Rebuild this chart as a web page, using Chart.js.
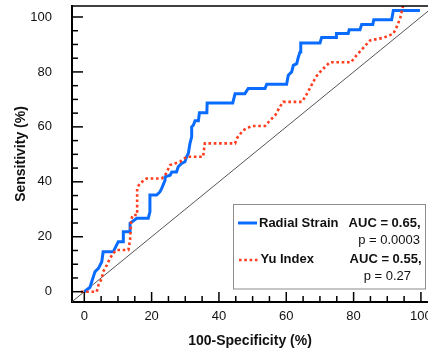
<!DOCTYPE html>
<html>
<head>
<meta charset="utf-8">
<script src="https://cdn.jsdelivr.net/npm/chart.js@4"></script>
<style>
  html, body { margin: 0; padding: 0; background: #fff; }
</style>
</head>
<body>
<canvas id="rocChart" width="428" height="356"></canvas>
<script>
// ROC points (100-Specificity, Sensitivity)
let radialX = [0, 1.7, 2.2, 3.2, 4.2, 5.2, 5.6, 8.6, 10.1, 11.6, 11.6, 13.6, 13.6, 15.6, 19, 19.5, 19.5, 21.5, 22.5, 23, 24, 24, 25.5, 26, 27.4, 27.9, 28.9, 29.9, 30.4, 30.9, 31.4, 31.9, 31.9, 32.4, 32.9, 33.9, 34.2, 36.4, 36.5, 44.1, 44.8, 47.7, 48.7, 53.7, 54.2, 60.1, 60.6, 61.6, 62.1, 63.1, 63.6, 64.1, 64.3, 70, 70.5, 74.8, 74.9, 78.4, 78.7, 81.9, 82.4, 85.7, 86, 91.3, 91.8, 99.7];
let radialY = [0, 1.6, 3.6, 7.3, 8.5, 10.9, 14.5, 14.5, 18.2, 18.2, 21.8, 21.8, 24.9, 26.7, 26.7, 29.1, 35.2, 35.2, 36.4, 37.6, 40.6, 41.8, 42.4, 43.6, 43.6, 45.5, 46.7, 47.3, 49.1, 50.3, 54, 56.4, 60, 60.6, 62.2, 62.2, 65.1, 65.1, 68.7, 68.7, 72.1, 72.1, 74, 74, 75.5, 75.5, 78.8, 80, 82.4, 83, 85.5, 87.3, 90.5, 90.5, 92.5, 92.5, 94, 94, 95.4, 95.4, 97.3, 97.3, 99, 99, 102.4, 102.4];

let yuX = [-1, 3.7, 4.2, 5.2, 5.6, 6.7, 7.6, 8.6, 9.6, 13.1, 13.6, 13.9, 14.4, 15.7, 15.7, 16.5, 18.5, 23, 24, 25.5, 26.9, 28.4, 30.4, 35.3, 35.8, 44.8, 45.3, 47.2, 49.7, 53.7, 55.2, 56.7, 58.1, 59.1, 64.6, 65.6, 67, 68.8, 70.5, 72.9, 79.2, 80.9, 82.9, 84.9, 88.8, 91.8, 92.8, 93.8, 94.7];
let yuY = [0, 0, 2.4, 4.8, 7.3, 9.7, 12.1, 14, 15.2, 15.2, 18.8, 26.1, 27.9, 27.9, 37.6, 39.4, 41.2, 41.2, 42.4, 46.1, 46.7, 47.3, 49.1, 49.1, 54, 54, 55.8, 58.8, 60.3, 60.3, 62.4, 64.2, 67.3, 69.1, 69.1, 70.9, 74, 78.2, 80.6, 83.5, 83.5, 86.1, 88.8, 91.5, 92.4, 93.9, 96.4, 99.4, 104];

let refLine = [-5, 105];

let seriesNames = ["Radial Strain", "Yu Index"];
let aucLabels = ["AUC = 0.65,", "AUC = 0.55,"];
let pLabels = ["p = 0.0003", "p = 0.27"];

let xTicks = [0, 20, 40, 60, 80, 100];
let yTicks = [0, 20, 40, 60, 80, 100];

let blue = "#0a6cff";
let red = "#ff3d1f";
let fontFamily = "'Liberation Sans', Arial, sans-serif";

let toPoints = (xs, ys) => xs.map((x, i) => ({ x: x, y: ys[i] }));

let noPadding = (scale) => {
    scale.paddingTop = 0;
    scale.paddingBottom = 0;
    scale.paddingLeft = 0;
    scale.paddingRight = 0;
};

// inward tick marks, top frame and the boxed legend
let frameAndLegend = {
    id: "frameAndLegend",
    afterDraw(chart) {
        let ctx = chart.ctx;
        let area = chart.chartArea;
        let xs = chart.scales.x;
        let ys = chart.scales.y;
        ctx.save();
        ctx.strokeStyle = "#000";
        ctx.lineWidth = 1.5;
        ctx.beginPath();
        ctx.moveTo(area.left, area.top);
        ctx.lineTo(area.right, area.top);
        ctx.stroke();

        ctx.lineWidth = 1.5;
        for (let v = 0; v <= xs.max; v += 5) {
            let px = xs.getPixelForValue(v);
            let len = v % 20 === 0 ? 10 : 6;
            ctx.beginPath();
            ctx.moveTo(px, area.bottom);
            ctx.lineTo(px, area.bottom - len);
            ctx.stroke();
        }
        for (let v = 0; v <= ys.max; v += 5) {
            let py = ys.getPixelForValue(v);
            let len = v % 20 === 0 ? 11 : 6;
            ctx.beginPath();
            ctx.moveTo(area.left, py);
            ctx.lineTo(area.left + len, py);
            ctx.stroke();
        }

        // legend box
        ctx.fillStyle = "#fff";
        ctx.fillRect(233.5, 204.5, 192, 84.5);
        ctx.strokeStyle = "#8c8c8c";
        ctx.lineWidth = 1;
        ctx.strokeRect(233.5, 204.5, 192, 84.5);

        ctx.lineWidth = 3;
        ctx.strokeStyle = blue;
        ctx.beginPath();
        ctx.moveTo(238, 223);
        ctx.lineTo(257, 223);
        ctx.stroke();

        ctx.lineWidth = 2.6;
        ctx.strokeStyle = red;
        ctx.setLineDash([2.6, 2.7]);
        ctx.beginPath();
        ctx.moveTo(239, 260);
        ctx.lineTo(259, 260);
        ctx.stroke();
        ctx.setLineDash([]);

        ctx.fillStyle = "#111";
        ctx.textBaseline = "middle";
        ctx.textAlign = "left";
        ctx.font = "bold 13px " + fontFamily;
        ctx.fillText(seriesNames[0], 259, 223);
        ctx.fillText(seriesNames[1], 260.5, 259);
        ctx.textAlign = "right";
        ctx.fillText(aucLabels[0], 420.5, 223);
        ctx.fillText(aucLabels[1], 421.5, 259);
        ctx.font = "13px " + fontFamily;
        ctx.fillText(pLabels[0], 420, 240.5);
        ctx.fillText(pLabels[1], 411, 276.5);
        ctx.restore();
    },
};

let rocCtx = document.getElementById("rocChart").getContext("2d");

let rocChart = new Chart(rocCtx, {
    type: "line",
    data: {
        datasets: [
            {
                label: seriesNames[1],
                data: toPoints(yuX, yuY),
                borderColor: red,
                borderWidth: 2.6,
                borderDash: [2.6, 2.7],
                pointRadius: 0,
                tension: 0,
                order: 0,
                clip: 0,
            },
            {
                label: seriesNames[0],
                data: toPoints(radialX, radialY),
                borderColor: blue,
                borderWidth: 3,
                pointRadius: 0,
                tension: 0,
                order: 1,
                clip: 0,
            },
            {
                label: "reference",
                data: toPoints(refLine, refLine),
                borderColor: "#555",
                borderWidth: 1,
                pointRadius: 0,
                order: 2,
                clip: 0,
            },
        ],
    },
    options: {
        responsive: false,
        animation: false,
        events: [],
        layout: { padding: { top: 6, right: 0, left: 0, bottom: 0 } },
        plugins: {
            legend: { display: false },
            tooltip: { enabled: false },
        },
        scales: {
            x: {
                type: "linear",
                min: -3.65,
                max: 102.1,
                afterBuildTicks: (scale) => {
                    scale.ticks = xTicks.map((v) => ({ value: v }));
                },
                afterFit: (scale) => {
                    scale.height = 54;
                    noPadding(scale);
                },
                grid: { display: false, drawTicks: false },
                border: { display: true, color: "#000", width: 2 },
                ticks: {
                    padding: 7,
                    color: "#111",
                    font: { family: fontFamily, size: 13 },
                },
                title: {
                    display: true,
                    text: "100-Specificity (%)",
                    color: "#111",
                    font: { family: fontFamily, size: 14, weight: "bold" },
                    padding: { top: 0, bottom: 6 },
                },
            },
            y: {
                type: "linear",
                min: -3.75,
                max: 104,
                afterBuildTicks: (scale) => {
                    scale.ticks = yTicks.map((v) => ({ value: v }));
                },
                afterFit: (scale) => {
                    scale.width = 72;
                    noPadding(scale);
                },
                grid: { display: false, drawTicks: false },
                border: { display: true, color: "#000", width: 2 },
                ticks: {
                    padding: 20,
                    color: "#111",
                    font: { family: fontFamily, size: 13 },
                },
                title: {
                    display: true,
                    text: "Sensitivity (%)",
                    color: "#111",
                    font: { family: fontFamily, size: 14, weight: "bold" },
                    padding: { top: 13, bottom: 0 },
                },
            },
        },
    },
    plugins: [frameAndLegend],
});
</script>
</body>
</html>
